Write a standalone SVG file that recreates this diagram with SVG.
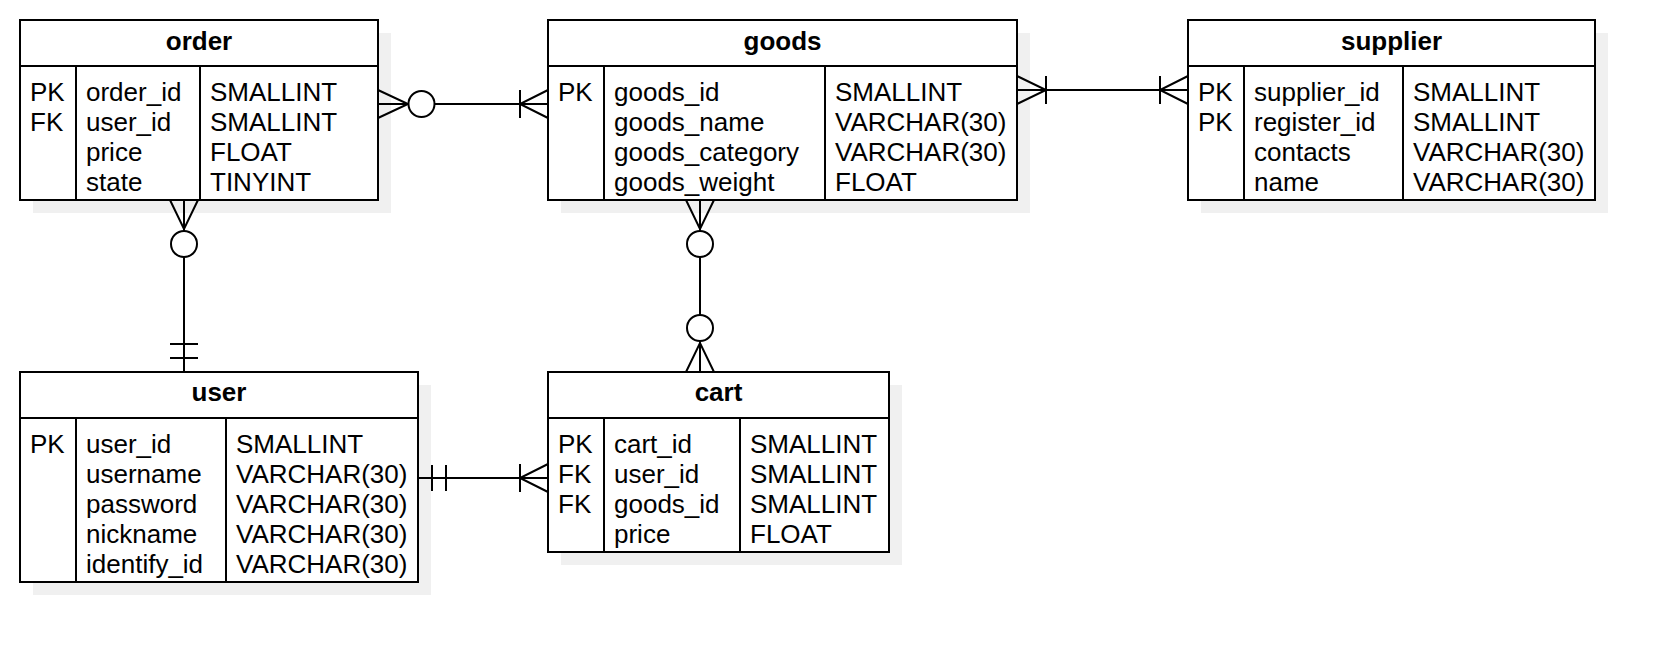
<svg xmlns="http://www.w3.org/2000/svg" width="1674" height="662" viewBox="0 0 1674 662">
<defs>
<style>
.shadow{fill:#f0f0f0;stroke:none}
.box{fill:#ffffff;stroke:#000000;stroke-width:2}
.ln{fill:none;stroke:#000000;stroke-width:2}
.hd{font-family:"Liberation Sans",Arial,sans-serif;font-size:26px;font-weight:bold;text-anchor:middle;fill:#000}
.tx{font-family:"Liberation Sans",Arial,sans-serif;font-size:26px;fill:#000}
.circ{fill:#ffffff;stroke:#000000;stroke-width:2}
</style>
</defs>
<rect width="1674" height="662" fill="#ffffff"/>

<g id="order">
<rect class="shadow" x="33" y="33" width="358" height="180"/>
<rect class="box" x="20" y="20" width="358" height="180"/>
<path class="ln" d="M20,66 H378 M76,66 V200 M200,66 V200"/>
<text class="hd" x="199" y="50">order</text>
<text class="tx" x="30" y="100.5">PK</text>
<text class="tx" x="30" y="130.5">FK</text>
<text class="tx" x="86" y="100.5">order_id</text>
<text class="tx" x="86" y="130.5">user_id</text>
<text class="tx" x="86" y="160.5">price</text>
<text class="tx" x="86" y="190.5">state</text>
<text class="tx" x="210" y="100.5">SMALLINT</text>
<text class="tx" x="210" y="130.5">SMALLINT</text>
<text class="tx" x="210" y="160.5">FLOAT</text>
<text class="tx" x="210" y="190.5">TINYINT</text>
</g>

<g id="goods">
<rect class="shadow" x="561" y="33" width="469" height="180"/>
<rect class="box" x="548" y="20" width="469" height="180"/>
<path class="ln" d="M548,66 H1017 M604,66 V200 M825,66 V200"/>
<text class="hd" x="782.5" y="50">goods</text>
<text class="tx" x="558" y="100.5">PK</text>
<text class="tx" x="614" y="100.5">goods_id</text>
<text class="tx" x="614" y="130.5">goods_name</text>
<text class="tx" x="614" y="160.5">goods_category</text>
<text class="tx" x="614" y="190.5">goods_weight</text>
<text class="tx" x="835" y="100.5">SMALLINT</text>
<text class="tx" x="835" y="130.5">VARCHAR(30)</text>
<text class="tx" x="835" y="160.5">VARCHAR(30)</text>
<text class="tx" x="835" y="190.5">FLOAT</text>
</g>

<g id="supplier">
<rect class="shadow" x="1201" y="33" width="407" height="180"/>
<rect class="box" x="1188" y="20" width="407" height="180"/>
<path class="ln" d="M1188,66 H1595 M1244,66 V200 M1403,66 V200"/>
<text class="hd" x="1391.5" y="50">supplier</text>
<text class="tx" x="1198" y="100.5">PK</text>
<text class="tx" x="1198" y="130.5">PK</text>
<text class="tx" x="1254" y="100.5">supplier_id</text>
<text class="tx" x="1254" y="130.5">register_id</text>
<text class="tx" x="1254" y="160.5">contacts</text>
<text class="tx" x="1254" y="190.5">name</text>
<text class="tx" x="1413" y="100.5">SMALLINT</text>
<text class="tx" x="1413" y="130.5">SMALLINT</text>
<text class="tx" x="1413" y="160.5">VARCHAR(30)</text>
<text class="tx" x="1413" y="190.5">VARCHAR(30)</text>
</g>

<g id="user">
<rect class="shadow" x="33" y="385" width="398" height="210"/>
<rect class="box" x="20" y="372" width="398" height="210"/>
<path class="ln" d="M20,418 H418 M76,418 V582 M226,418 V582"/>
<text class="hd" x="219" y="401">user</text>
<text class="tx" x="30" y="452.5">PK</text>
<text class="tx" x="86" y="452.5">user_id</text>
<text class="tx" x="86" y="482.5">username</text>
<text class="tx" x="86" y="512.5">password</text>
<text class="tx" x="86" y="542.5">nickname</text>
<text class="tx" x="86" y="572.5">identify_id</text>
<text class="tx" x="236" y="452.5">SMALLINT</text>
<text class="tx" x="236" y="482.5">VARCHAR(30)</text>
<text class="tx" x="236" y="512.5">VARCHAR(30)</text>
<text class="tx" x="236" y="542.5">VARCHAR(30)</text>
<text class="tx" x="236" y="572.5">VARCHAR(30)</text>
</g>

<g id="cart">
<rect class="shadow" x="561" y="385" width="341" height="180"/>
<rect class="box" x="548" y="372" width="341" height="180"/>
<path class="ln" d="M548,418 H889 M604,418 V552 M740,418 V552"/>
<text class="hd" x="718.5" y="401">cart</text>
<text class="tx" x="558" y="452.5">PK</text>
<text class="tx" x="558" y="482.5">FK</text>
<text class="tx" x="558" y="512.5">FK</text>
<text class="tx" x="614" y="452.5">cart_id</text>
<text class="tx" x="614" y="482.5">user_id</text>
<text class="tx" x="614" y="512.5">goods_id</text>
<text class="tx" x="614" y="542.5">price</text>
<text class="tx" x="750" y="452.5">SMALLINT</text>
<text class="tx" x="750" y="482.5">SMALLINT</text>
<text class="tx" x="750" y="512.5">SMALLINT</text>
<text class="tx" x="750" y="542.5">FLOAT</text>
</g>

<g id="connectors">
<!-- order - goods -->
<path class="ln" d="M378,104 H408 M435,104 H548 M378,90 L408,104 L378,118 M548,90 L520,104 L548,118 M520,90 V118"/>
<circle class="circ" cx="421.5" cy="104" r="13"/>
<!-- goods - supplier -->
<path class="ln" d="M1017,90 H1188 M1017,76 L1046,90 L1017,104 M1046,76 V104 M1188,76 L1160,90 L1188,104 M1160,76 V104"/>
<!-- order - user -->
<path class="ln" d="M184,200 V231 M184,257 V372 M170,200 L184,229 L198,200 M170,344 H198 M170,358 H198"/>
<circle class="circ" cx="184" cy="244" r="13"/>
<!-- user - cart -->
<path class="ln" d="M418,478 H548 M432,465 V491 M446,465 V491 M548,464 L520,478 L548,492 M520,464 V492"/>
<!-- goods - cart -->
<path class="ln" d="M700,200 V231 M700,257 V315 M700,341 V372 M686,200 L700,229 L714,200 M686,372 L700,343 L714,372"/>
<circle class="circ" cx="700" cy="244" r="13"/>
<circle class="circ" cx="700" cy="328" r="13"/>
</g>
</svg>
